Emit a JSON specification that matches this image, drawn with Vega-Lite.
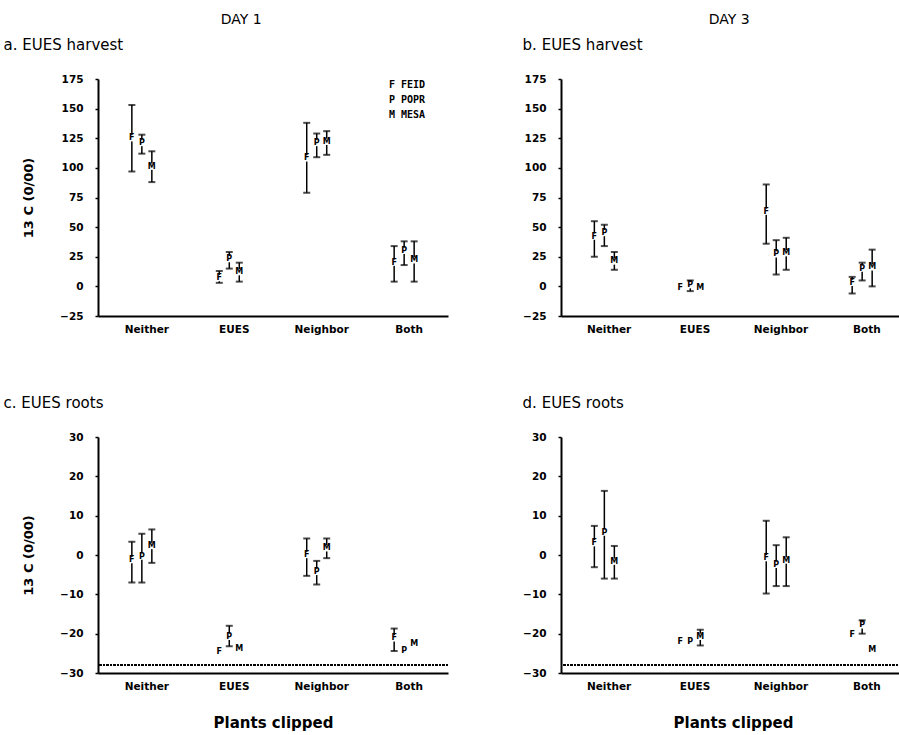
{
  "$schema": "https://vega.github.io/schema/vega-lite/v6.json",
  "background": "white",
  "padding": {"left": 3, "top": 13, "right": 0, "bottom": 5},
  "config": {
    "font": "DejaVu Sans",
    "view": {"stroke": null},
    "axis": {"domainColor": "black", "domainWidth": 2, "tickColor": "black", "tickSize": 3, "tickWidth": 1.5, "labelColor": "black", "labelFont": "DejaVu Sans", "labelFontWeight": "bold", "labelFontSize": 10.5, "labelOverlap": false, "labelFlush": false, "grid": false, "titleFont": "DejaVu Sans", "titleFontWeight": "bold", "titleFontSize": 13, "titleColor": "black"},
    "title": {"font": "DejaVu Sans", "fontSize": 15, "fontWeight": "normal", "color": "black"}
  },
  "datasets": {
    "d": [
      {"panel": "a", "clip": "Neither", "sp": "FEID", "code": "F", "mean": 125, "lo": 97, "hi": 153},
      {"panel": "a", "clip": "Neither", "sp": "POPR", "code": "P", "mean": 121, "lo": 112, "hi": 128},
      {"panel": "a", "clip": "Neither", "sp": "MESA", "code": "M", "mean": 101, "lo": 88, "hi": 114},
      {"panel": "a", "clip": "EUES", "sp": "FEID", "code": "F", "mean": 7, "lo": 3, "hi": 13},
      {"panel": "a", "clip": "EUES", "sp": "POPR", "code": "P", "mean": 23, "lo": 15, "hi": 29},
      {"panel": "a", "clip": "EUES", "sp": "MESA", "code": "M", "mean": 12, "lo": 4, "hi": 20},
      {"panel": "a", "clip": "Neighbor", "sp": "FEID", "code": "F", "mean": 108, "lo": 79, "hi": 138},
      {"panel": "a", "clip": "Neighbor", "sp": "POPR", "code": "P", "mean": 121, "lo": 109, "hi": 129},
      {"panel": "a", "clip": "Neighbor", "sp": "MESA", "code": "M", "mean": 122, "lo": 111, "hi": 131},
      {"panel": "a", "clip": "Both", "sp": "FEID", "code": "F", "mean": 20, "lo": 4, "hi": 34},
      {"panel": "a", "clip": "Both", "sp": "POPR", "code": "P", "mean": 30, "lo": 18, "hi": 38},
      {"panel": "a", "clip": "Both", "sp": "MESA", "code": "M", "mean": 22, "lo": 4, "hi": 38},

      {"panel": "b", "clip": "Neither", "sp": "FEID", "code": "F", "mean": 42, "lo": 25, "hi": 55},
      {"panel": "b", "clip": "Neither", "sp": "POPR", "code": "P", "mean": 45, "lo": 34, "hi": 52},
      {"panel": "b", "clip": "Neither", "sp": "MESA", "code": "M", "mean": 21, "lo": 14, "hi": 29},
      {"panel": "b", "clip": "EUES", "sp": "FEID", "code": "F", "mean": -1, "lo": null, "hi": null},
      {"panel": "b", "clip": "EUES", "sp": "POPR", "code": "P", "mean": 1, "lo": -4, "hi": 5},
      {"panel": "b", "clip": "EUES", "sp": "MESA", "code": "M", "mean": -1, "lo": null, "hi": null},
      {"panel": "b", "clip": "Neighbor", "sp": "FEID", "code": "F", "mean": 63, "lo": 36, "hi": 86},
      {"panel": "b", "clip": "Neighbor", "sp": "POPR", "code": "P", "mean": 27, "lo": 10, "hi": 39},
      {"panel": "b", "clip": "Neighbor", "sp": "MESA", "code": "M", "mean": 28, "lo": 14, "hi": 41},
      {"panel": "b", "clip": "Both", "sp": "FEID", "code": "F", "mean": 3, "lo": -6, "hi": 8},
      {"panel": "b", "clip": "Both", "sp": "POPR", "code": "P", "mean": 15, "lo": 5, "hi": 20},
      {"panel": "b", "clip": "Both", "sp": "MESA", "code": "M", "mean": 16, "lo": 0, "hi": 31},

      {"panel": "c", "clip": "Neither", "sp": "FEID", "code": "F", "mean": -1.3, "lo": -7, "hi": 3.4},
      {"panel": "c", "clip": "Neither", "sp": "POPR", "code": "P", "mean": -0.4, "lo": -7, "hi": 5.4},
      {"panel": "c", "clip": "Neither", "sp": "MESA", "code": "M", "mean": 2.3, "lo": -2, "hi": 6.5},
      {"panel": "c", "clip": "EUES", "sp": "FEID", "code": "F", "mean": -24.6, "lo": null, "hi": null},
      {"panel": "c", "clip": "EUES", "sp": "POPR", "code": "P", "mean": -20.8, "lo": -23.2, "hi": -18},
      {"panel": "c", "clip": "EUES", "sp": "MESA", "code": "M", "mean": -23.8, "lo": null, "hi": null},
      {"panel": "c", "clip": "Neighbor", "sp": "FEID", "code": "F", "mean": 0, "lo": -5.3, "hi": 4.2},
      {"panel": "c", "clip": "Neighbor", "sp": "POPR", "code": "P", "mean": -4.3, "lo": -7.5, "hi": -1.5},
      {"panel": "c", "clip": "Neighbor", "sp": "MESA", "code": "M", "mean": 1.7, "lo": -0.8, "hi": 4.2},
      {"panel": "c", "clip": "Both", "sp": "FEID", "code": "F", "mean": -21.2, "lo": -24.4, "hi": -18.7},
      {"panel": "c", "clip": "Both", "sp": "POPR", "code": "P", "mean": -24.4, "lo": null, "hi": null},
      {"panel": "c", "clip": "Both", "sp": "MESA", "code": "M", "mean": -22.7, "lo": null, "hi": null},

      {"panel": "d", "clip": "Neither", "sp": "FEID", "code": "F", "mean": 3, "lo": -3.1, "hi": 7.4},
      {"panel": "d", "clip": "Neither", "sp": "POPR", "code": "P", "mean": 5.7, "lo": -6, "hi": 16.3},
      {"panel": "d", "clip": "Neither", "sp": "MESA", "code": "M", "mean": -1.7, "lo": -6, "hi": 2.3},
      {"panel": "d", "clip": "EUES", "sp": "FEID", "code": "F", "mean": -22.1, "lo": null, "hi": null},
      {"panel": "d", "clip": "EUES", "sp": "POPR", "code": "P", "mean": -22.1, "lo": null, "hi": null},
      {"panel": "d", "clip": "EUES", "sp": "MESA", "code": "M", "mean": -20.8, "lo": -23, "hi": -19},
      {"panel": "d", "clip": "Neighbor", "sp": "FEID", "code": "F", "mean": -0.8, "lo": -9.8, "hi": 8.7},
      {"panel": "d", "clip": "Neighbor", "sp": "POPR", "code": "P", "mean": -2.5, "lo": -7.9, "hi": 2.5},
      {"panel": "d", "clip": "Neighbor", "sp": "MESA", "code": "M", "mean": -1.4, "lo": -7.9, "hi": 4.5},
      {"panel": "d", "clip": "Both", "sp": "FEID", "code": "F", "mean": -20.4, "lo": null, "hi": null},
      {"panel": "d", "clip": "Both", "sp": "POPR", "code": "P", "mean": -17.9, "lo": -20, "hi": -16.6},
      {"panel": "d", "clip": "Both", "sp": "MESA", "code": "M", "mean": -24.2, "lo": null, "hi": null}
    ]
  },
  "spacing": 73,
  "hconcat": [
    {
      "title": {"text": "DAY 1", "anchor": "middle", "fontSize": 14, "offset": 11, "dx": 15},
      "spacing": 61,
      "vconcat": [
        {
          "title": {"text": "a. EUES harvest", "anchor": "start", "frame": "bounds", "offset": 21, "dx": -19},
          "width": 350, "height": 237,
          "data": {"name": "d"},
          "transform": [{"filter": "datum.panel == 'a'"}],
          "encoding": {
            "x": {"field": "clip", "type": "nominal", "sort": ["Neither", "EUES", "Neighbor", "Both"], "scale": {"paddingInner": 0.657, "paddingOuter": 0.33}, "axis": {"title": null, "labelAngle": 0, "ticks": false, "labelPadding": 8, "labelOffset": 5}},
            "xOffset": {"field": "sp", "type": "nominal", "sort": ["FEID", "POPR", "MESA"], "scale": {"paddingInner": 0, "paddingOuter": 0}},
            "y": {"type": "quantitative", "scale": {"domain": [-25, 175], "nice": false}, "axis": {"title": "13 C (0/00)", "values": [-25, 0, 25, 50, 75, 100, 125, 150, 175], "labelOverlap": false, "titlePadding": 24, "labelPadding": 12}}
          },
          "layer": [
            {"transform": [{"filter": "isValid(datum.lo)"}], "mark": {"type": "rule", "color": "black", "strokeWidth": 1.5},
             "encoding": {"y": {"field": "lo", "type": "quantitative"}, "y2": {"field": "hi"}}},
            {"transform": [{"filter": "isValid(datum.lo)"}], "mark": {"type": "tick", "color": "black", "thickness": 2, "size": 7}, "encoding": {"y": {"field": "hi", "type": "quantitative"}}},
            {"transform": [{"filter": "isValid(datum.lo)"}], "mark": {"type": "tick", "color": "black", "thickness": 2, "size": 7}, "encoding": {"y": {"field": "lo", "type": "quantitative"}}},
            {"mark": {"type": "point", "shape": "square", "filled": true, "color": "white", "opacity": 1, "size": 40}, "encoding": {"y": {"field": "mean", "type": "quantitative"}}},
            {"mark": {"type": "text", "fontWeight": "bold", "fontSize": 8},
             "encoding": {"y": {"field": "mean", "type": "quantitative"}, "text": {"field": "code"},
               "color": {"field": "sp", "type": "nominal", "scale": {"domain": ["FEID", "POPR", "MESA"], "range": ["black", "black", "black"]},
                 "legend": {"orient": "none", "legendX": 281, "legendY": 1, "title": null, "symbolSize": 0, "symbolStrokeWidth": 0, "labelFont": "DejaVu Sans Mono", "labelFontWeight": "bold", "labelFontSize": 10, "labelColor": "black", "rowPadding": 5, "labelOffset": 0,
                   "labelExpr": "datum.value == 'FEID' ? 'F   FEID' : datum.value == 'POPR' ? 'P   POPR' : 'M   MESA'"}}}}
          ]
        },
        {
          "title": {"text": "c. EUES roots", "anchor": "start", "frame": "bounds", "offset": 21, "dx": -19},
          "width": 350, "height": 236,
          "data": {"name": "d"},
          "transform": [{"filter": "datum.panel == 'c'"}],
          "encoding": {
            "y": {"type": "quantitative", "scale": {"domain": [-30, 30], "nice": false}, "axis": {"title": "13 C (0/00)", "tickCount": 6, "labelOverlap": false, "titlePadding": 24, "labelPadding": 12}}
          },
          "layer": [
            {"mark": {"type": "rule", "color": "black", "strokeWidth": 1.5, "strokeDash": [2, 1.5]}, "encoding": {"y": {"datum": -28, "type": "quantitative"}}},
            {
              "encoding": {
                "x": {"field": "clip", "type": "nominal", "sort": ["Neither", "EUES", "Neighbor", "Both"], "scale": {"paddingInner": 0.657, "paddingOuter": 0.33}, "axis": {"title": "Plants clipped", "titleFontSize": 15, "labelAngle": 0, "ticks": false, "labelPadding": 8, "labelOffset": 5, "titlePadding": 24}},
                "xOffset": {"field": "sp", "type": "nominal", "sort": ["FEID", "POPR", "MESA"], "scale": {"paddingInner": 0, "paddingOuter": 0}}
              },
              "layer": [
                {"transform": [{"filter": "isValid(datum.lo)"}], "mark": {"type": "rule", "color": "black", "strokeWidth": 1.5},
                 "encoding": {"y": {"field": "lo", "type": "quantitative"}, "y2": {"field": "hi"}}},
                {"transform": [{"filter": "isValid(datum.lo)"}], "mark": {"type": "tick", "color": "black", "thickness": 2, "size": 7}, "encoding": {"y": {"field": "hi", "type": "quantitative"}}},
                {"transform": [{"filter": "isValid(datum.lo)"}], "mark": {"type": "tick", "color": "black", "thickness": 2, "size": 7}, "encoding": {"y": {"field": "lo", "type": "quantitative"}}},
                {"mark": {"type": "point", "shape": "square", "filled": true, "color": "white", "opacity": 1, "size": 40}, "encoding": {"y": {"field": "mean", "type": "quantitative"}}},
                {"mark": {"type": "text", "fontWeight": "bold", "fontSize": 8, "color": "black"}, "encoding": {"y": {"field": "mean", "type": "quantitative"}, "text": {"field": "code"}}}
              ]
            }
          ]
        }
      ]
    },
    {
      "title": {"text": "DAY 3", "anchor": "middle", "fontSize": 14, "offset": 11, "dx": 15},
      "spacing": 61,
      "vconcat": [
        {
          "title": {"text": "b. EUES harvest", "anchor": "start", "frame": "bounds", "offset": 21},
          "width": 344, "height": 237,
          "data": {"name": "d"},
          "transform": [{"filter": "datum.panel == 'b'"}],
          "encoding": {
            "x": {"field": "clip", "type": "nominal", "sort": ["Neither", "EUES", "Neighbor", "Both"], "scale": {"paddingInner": 0.657, "paddingOuter": 0.33}, "axis": {"title": null, "labelAngle": 0, "ticks": false, "labelPadding": 8, "labelOffset": 5}},
            "xOffset": {"field": "sp", "type": "nominal", "sort": ["FEID", "POPR", "MESA"], "scale": {"paddingInner": 0, "paddingOuter": 0}},
            "y": {"type": "quantitative", "scale": {"domain": [-25, 175], "nice": false}, "axis": {"title": null, "values": [-25, 0, 25, 50, 75, 100, 125, 150, 175], "labelOverlap": false, "labelPadding": 12}}
          },
          "layer": [
            {"transform": [{"filter": "isValid(datum.lo)"}], "mark": {"type": "rule", "color": "black", "strokeWidth": 1.5},
             "encoding": {"y": {"field": "lo", "type": "quantitative"}, "y2": {"field": "hi"}}},
            {"transform": [{"filter": "isValid(datum.lo)"}], "mark": {"type": "tick", "color": "black", "thickness": 2, "size": 7}, "encoding": {"y": {"field": "hi", "type": "quantitative"}}},
            {"transform": [{"filter": "isValid(datum.lo)"}], "mark": {"type": "tick", "color": "black", "thickness": 2, "size": 7}, "encoding": {"y": {"field": "lo", "type": "quantitative"}}},
            {"mark": {"type": "point", "shape": "square", "filled": true, "color": "white", "opacity": 1, "size": 40}, "encoding": {"y": {"field": "mean", "type": "quantitative"}}},
            {"mark": {"type": "text", "fontWeight": "bold", "fontSize": 8, "color": "black"}, "encoding": {"y": {"field": "mean", "type": "quantitative"}, "text": {"field": "code"}}}
          ]
        },
        {
          "title": {"text": "d. EUES roots", "anchor": "start", "frame": "bounds", "offset": 21},
          "width": 344, "height": 236,
          "data": {"name": "d"},
          "transform": [{"filter": "datum.panel == 'd'"}],
          "encoding": {
            "y": {"type": "quantitative", "scale": {"domain": [-30, 30], "nice": false}, "axis": {"title": null, "tickCount": 6, "labelOverlap": false, "labelPadding": 12}}
          },
          "layer": [
            {"mark": {"type": "rule", "color": "black", "strokeWidth": 1.5, "strokeDash": [2, 1.5]}, "encoding": {"y": {"datum": -28, "type": "quantitative"}}},
            {
              "encoding": {
                "x": {"field": "clip", "type": "nominal", "sort": ["Neither", "EUES", "Neighbor", "Both"], "scale": {"paddingInner": 0.657, "paddingOuter": 0.33}, "axis": {"title": "Plants clipped", "titleFontSize": 15, "labelAngle": 0, "ticks": false, "labelPadding": 8, "labelOffset": 5, "titlePadding": 24}},
                "xOffset": {"field": "sp", "type": "nominal", "sort": ["FEID", "POPR", "MESA"], "scale": {"paddingInner": 0, "paddingOuter": 0}}
              },
              "layer": [
                {"transform": [{"filter": "isValid(datum.lo)"}], "mark": {"type": "rule", "color": "black", "strokeWidth": 1.5},
                 "encoding": {"y": {"field": "lo", "type": "quantitative"}, "y2": {"field": "hi"}}},
                {"transform": [{"filter": "isValid(datum.lo)"}], "mark": {"type": "tick", "color": "black", "thickness": 2, "size": 7}, "encoding": {"y": {"field": "hi", "type": "quantitative"}}},
                {"transform": [{"filter": "isValid(datum.lo)"}], "mark": {"type": "tick", "color": "black", "thickness": 2, "size": 7}, "encoding": {"y": {"field": "lo", "type": "quantitative"}}},
                {"mark": {"type": "point", "shape": "square", "filled": true, "color": "white", "opacity": 1, "size": 40}, "encoding": {"y": {"field": "mean", "type": "quantitative"}}},
                {"mark": {"type": "text", "fontWeight": "bold", "fontSize": 8, "color": "black"}, "encoding": {"y": {"field": "mean", "type": "quantitative"}, "text": {"field": "code"}}}
              ]
            }
          ]
        }
      ]
    }
  ]
}
